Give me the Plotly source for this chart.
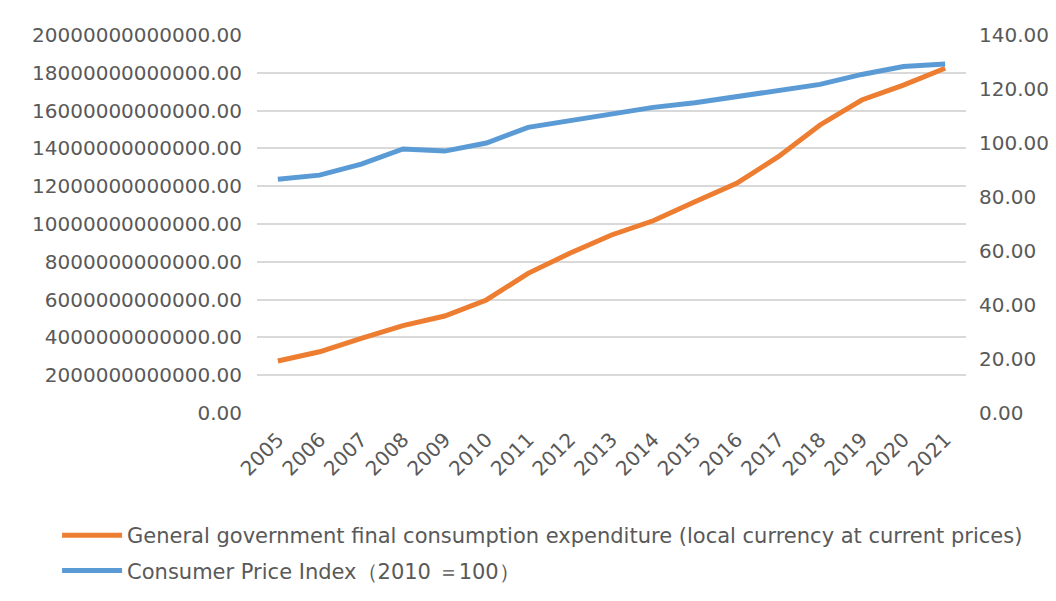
import plotly.graph_objects as go

years = [str(y) for y in range(2005, 2022)]
gov_expenditure = [2.75e12, 3.24e12, 3.95e12, 4.62e12, 5.13e12, 5.98e12, 7.39e12, 8.45e12,
                   9.42e12, 10.17e12, 11.18e12, 12.15e12, 13.56e12, 15.24e12, 16.56e12,
                   17.35e12, 18.24e12]
cpi = [86.6, 88.1, 92.2, 97.8, 97.0, 100.0, 105.8, 108.3, 111.0, 113.2, 114.9, 117.2,
       119.3, 121.7, 125.4, 128.3, 129.3]

left_ticks = [i * 2e12 for i in range(11)]
right_ticks = [i * 20 for i in range(8)]

FONT = "DejaVu Sans"
GRAY = "#595959"
FS = 20

fig = go.Figure()
fig.add_trace(go.Scatter(
    x=years, y=gov_expenditure, mode="lines",
    name="General government final consumption expenditure (local currency at current prices)",
    legendgroup="a",
    line=dict(color="#ED7D31", width=5), yaxis="y"))
fig.add_trace(go.Scatter(
    x=years, y=cpi, mode="lines",
    name="Consumer Price Index（2010 ＝100）",
    legendgroup="b",
    line=dict(color="#5B9BD5", width=5), yaxis="y2"))

fig.update_layout(
    width=1040, height=593,
    margin=dict(l=249, r=82, t=27, b=188, autoexpand=False),
    paper_bgcolor="white", plot_bgcolor="white",
    font=dict(family=FONT, size=FS, color=GRAY),
    showlegend=True,
    legend=dict(orientation="v", x=-0.282, y=-0.27, xanchor="left", yanchor="top",
                font=dict(family=FONT, size=21, color=GRAY), itemwidth=60,
                traceorder="grouped", tracegroupgap=5),
    xaxis=dict(type="category", range=[-0.5, 16.5], tickangle=-45, showgrid=False,
               showline=False, ticks="", automargin=False, ticklabelstandoff=10,
               tickfont=dict(size=FS, color=GRAY)),
    yaxis=dict(range=[0, 2e13], tickvals=left_ticks,
               ticktext=[f"{v:.2f}" for v in left_ticks],
               showgrid=True, gridcolor="#d9d9d9", gridwidth=1.5, automargin=False,
               zeroline=False, showline=False, ticks="", ticklabelstandoff=14),
    yaxis2=dict(range=[0, 140], tickvals=right_ticks,
                ticktext=[f"{v:.2f}" for v in right_ticks],
                overlaying="y", side="right", showgrid=False, zeroline=False,
                automargin=False,
                showline=False, ticks="", ticklabelstandoff=12),
)

fig.write_html("out.html")
